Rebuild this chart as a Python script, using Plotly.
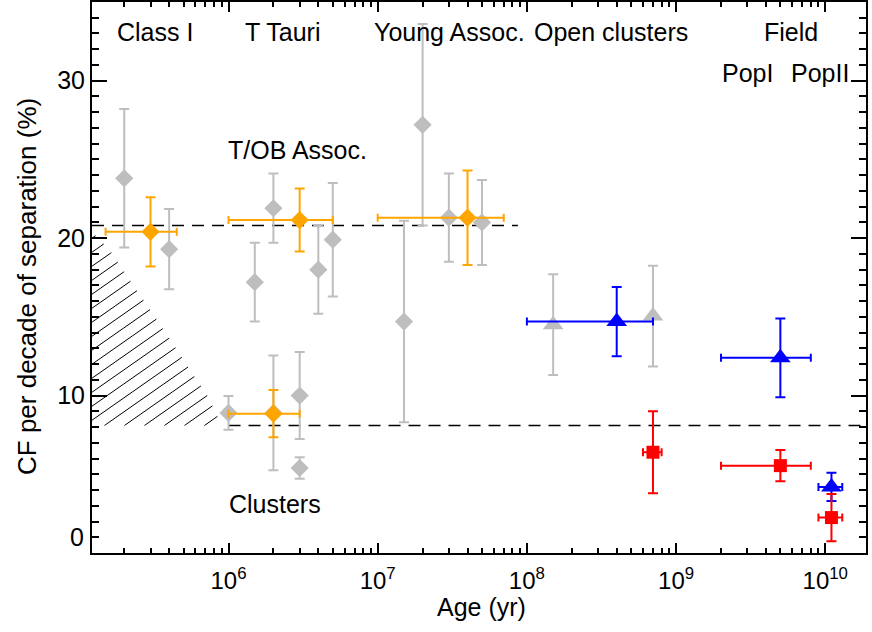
import numpy as np
import plotly.graph_objects as go

# ---------------- data ----------------
# individual samples (grey diamonds)
gray_age = [2e5, 4e5, 1.5e6, 2e6, 4e6, 5e6, 1e6, 2e6, 3e6, 3e6, 1.5e7, 2e7, 3e7, 5e7]
gray_cf = [23.8, 19.3, 17.2, 21.9, 18.0, 19.9, 8.9, 8.9, 10.0, 5.4, 14.7, 27.2, 21.3, 21.0]
gray_err = [4.4, 2.55, 2.5, 2.2, 2.8, 3.6, 1.07, 3.65, 2.76, 0.69, 6.4, 6.4, 2.8, 2.7]

# group means (orange diamonds)
orange_age = [3e5, 3e6, 2e6, 4e7]
orange_cf = [20.4, 21.15, 8.85, 21.3]
orange_err = [2.2, 2.0, 1.5, 3.0]
orange_xerr = [1.5e5, 2e6, 1e6, 3e7]

# open clusters, individual (grey triangles)
gtri_age = [1.5e8, 7e8]
gtri_cf = [14.5, 15.05]
gtri_err = [3.2, 3.2]

# blue triangles
blue_age = [4e8, 5e9, 1.1e10]
blue_cf = [14.7, 12.4, 4.2]
blue_err = [2.2, 2.5, 0.9]
blue_xerr = [3e8, 3e9, 2e9]

# red squares
red_age = [7e8, 5e9, 1.1e10]
red_cf = [6.4, 5.55, 2.25]
red_err = [2.6, 1.0, 1.5]
red_xerr = [1e8, 3e9, 2e9]

# reference levels
assoc_level = 20.8
assoc_end = 8.7e7
cluster_level = 8.1
cluster_start = 1e6

# hatched region boundary
hatch_age = [1.216e5, 1.58e5, 2.42e5, 3.38e5, 4.31e5, 6.01e5, 7.13e5, 9.04e5]
hatch_cf = [20.4, 19.3, 16.7, 14.7, 13.2, 11.1, 10.1, 8.1]

# labels
group_labels = ["Class I", "T Tauri", "Young Assoc.", "Open clusters", "Field"]
y_tick_vals = [10, 20, 30]
x_tick_vals = [1e6, 1e7, 1e8, 1e9, 1e10]
x_tick_text = ["10<sup>6</sup>", "10<sup>7</sup>", "10<sup>8</sup>", "10<sup>9</sup>", "10<sup>10</sup>"]

# ---------------- layout constants ----------------
W, H = 872, 632
ML, MR, MT, MB = 92, 6, 2, 79
XR = [5.085, 10.273]
YR = [0, 35]
pw = W - ML - MR
ph = H - MT - MB
px_u = pw / (XR[1] - XR[0])
px_y = ph / (YR[1] - YR[0])

FONT = "Liberation Sans, Arial, Helvetica, sans-serif"
GRAY = "#BEBEBE"
ORANGE = "#FFA500"
BLUE = "#0000FF"
RED = "#FF0000"

fig = go.Figure()

# ---- hatch lines (clipped to the hatched region) ----
slope_px = 0.7
spacing_px = 14.0
m = slope_px * px_u / px_y
hu = np.log10(hatch_age)
u = np.linspace(XR[0], hu[-1], 2000)
bound = np.interp(u, hu, hatch_cf)
hx, hy = [], []
c = cluster_level - m * (hu[-1] - XR[0]) - 1
top = max(hatch_cf)
while c < top:
    yl = c + m * (u - XR[0])
    inside = (yl >= cluster_level) & (yl <= bound)
    if inside.any():
        idx = np.where(inside)[0]
        i0, i1 = idx[0], idx[-1]
        hx += [10 ** u[i0], 10 ** u[i1], None]
        hy += [yl[i0], yl[i1], None]
    c += spacing_px / px_y
fig.add_trace(go.Scatter(x=hx, y=hy, mode="lines", line=dict(color="black", width=1),
                         hoverinfo="skip", showlegend=False))

# ---- dashed levels ----
fig.add_trace(go.Scatter(x=[10 ** XR[0], assoc_end], y=[assoc_level, assoc_level], mode="lines",
                         line=dict(color="black", width=1.5, dash="12px,8px"), showlegend=False))
fig.add_trace(go.Scatter(x=[cluster_start, 10 ** XR[1]], y=[cluster_level, cluster_level], mode="lines",
                         line=dict(color="black", width=1.5, dash="12px,8px"), showlegend=False))


def ebar(arr, color, w):
    return dict(type="data", array=arr, color=color, thickness=2, width=w)


fig.add_trace(go.Scatter(x=gray_age, y=gray_cf, mode="markers",
                         marker=dict(symbol="diamond", size=14, color=GRAY),
                         error_y=ebar(gray_err, GRAY, 5), showlegend=False))
fig.add_trace(go.Scatter(x=gtri_age, y=gtri_cf, mode="markers",
                         marker=dict(symbol="triangle-up", size=18, color=GRAY),
                         error_y=ebar(gtri_err, GRAY, 5), showlegend=False))
fig.add_trace(go.Scatter(x=orange_age, y=orange_cf, mode="markers",
                         marker=dict(symbol="diamond", size=14, color=ORANGE),
                         error_y=ebar(orange_err, ORANGE, 5),
                         error_x=ebar(orange_xerr, ORANGE, 4), showlegend=False))
fig.add_trace(go.Scatter(x=blue_age, y=blue_cf, mode="markers",
                         marker=dict(symbol="triangle-up", size=18, color=BLUE),
                         error_y=ebar(blue_err, BLUE, 5),
                         error_x=ebar(blue_xerr, BLUE, 4), showlegend=False))
fig.add_trace(go.Scatter(x=red_age, y=red_cf, mode="markers",
                         marker=dict(symbol="square", size=13, color=RED),
                         error_y=ebar(red_err, RED, 5),
                         error_x=ebar(red_xerr, RED, 4), showlegend=False))

# ---- annotations ----
TF = dict(family=FONT, size=25, color="black")


def px2paper(xp, yp):
    return (xp - ML) / pw, (H - MB - yp) / ph


label_pos = [(155, 32), (283, 32), (449, 32), (611, 32), (791, 32)]
for t, (xp, yp) in zip(group_labels, label_pos):
    xx, yy = px2paper(xp, yp)
    fig.add_annotation(x=xx, y=yy, xref="paper", yref="paper", text=t, showarrow=False,
                       font=TF, xanchor="center", yanchor="middle")
for t, (xp, yp) in zip(["PopI", "PopII", "T/OB Assoc.", "Clusters"],
                       [(747, 73), (820, 73), (297, 150), (275, 504)]):
    xx, yy = px2paper(xp, yp)
    fig.add_annotation(x=xx, y=yy, xref="paper", yref="paper", text=t, showarrow=False,
                       font=TF, xanchor="center", yanchor="middle")

# y label "0" sits slightly above the axis
fig.add_annotation(x=(86 - ML) / pw, y=0, xref="paper", yref="y", text="0", showarrow=False,
                   font=dict(family=FONT, size=25, color="black"), xanchor="right",
                   yanchor="middle", yshift=16)

# axis titles
xx, yy = px2paper(481, 607)
fig.add_annotation(x=xx, y=yy, xref="paper", yref="paper", text="Age (yr)", showarrow=False,
                   font=dict(family=FONT, size=25, color="black"), xanchor="center", yanchor="middle")
xx, yy = px2paper(27, 287)
fig.add_annotation(x=xx, y=yy, xref="paper", yref="paper", text="CF per decade of separation (%)",
                   showarrow=False, textangle=-90,
                   font=dict(family=FONT, size=26, color="black"), xanchor="center", yanchor="middle")

fig.update_layout(
    width=W, height=H,
    margin=dict(l=ML, r=MR, t=MT, b=MB, autoexpand=False),
    paper_bgcolor="white", plot_bgcolor="white",
    showlegend=False,
    xaxis=dict(type="log", range=XR, tickmode="array", tickvals=x_tick_vals, ticktext=x_tick_text,
               automargin=False,
               showgrid=False, zeroline=False, showline=True, linecolor="black", linewidth=2,
               mirror="allticks", ticks="inside", ticklen=10, tickwidth=1.5, tickcolor="black",
               minor=dict(dtick="D1", ticks="inside", ticklen=5, tickwidth=1.5, tickcolor="black",
                          showgrid=False),
               tickfont=dict(family=FONT, size=24, color="black"), ticklabelstandoff=5),
    yaxis=dict(range=YR, tickmode="array", tickvals=y_tick_vals, automargin=False,
               showgrid=False, zeroline=False, showline=True, linecolor="black", linewidth=2,
               mirror="allticks", ticks="inside", ticklen=15, tickwidth=1.5, tickcolor="black",
               minor=dict(tickmode="linear", tick0=0, dtick=1, ticks="inside", ticklen=7,
                          tickwidth=1.5, tickcolor="black", showgrid=False),
               tickfont=dict(family=FONT, size=25, color="black")),
)

fig.write_html("out.html", config={"displayModeBar": False},
               post_script="document.body.style.margin='0px';")
